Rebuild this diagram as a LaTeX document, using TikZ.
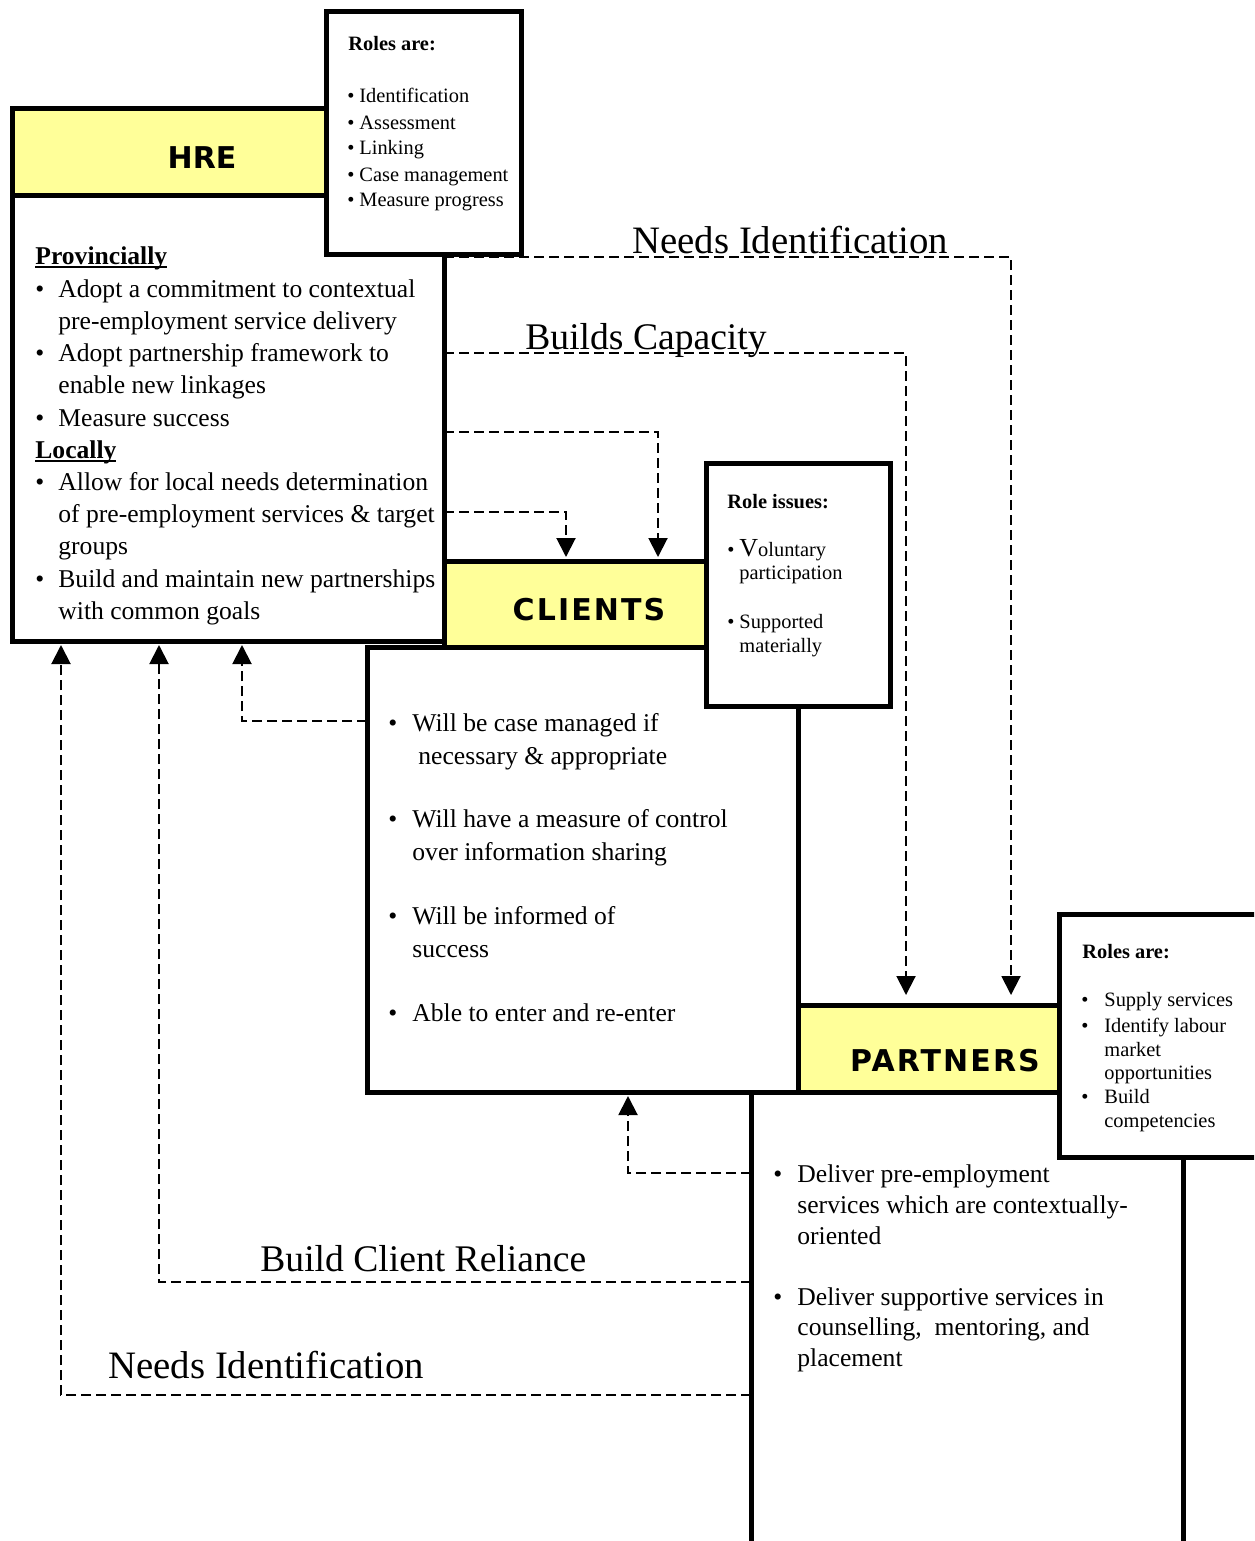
\documentclass[tikz,border=0pt]{standalone}
\usepackage{fontspec}
\setmainfont{Liberation Serif}
\newfontfamily\titlefont{DejaVu Sans}
\newfontfamily\titlefontsp[LetterSpace=7]{DejaVu Sans}
\usetikzlibrary{arrows.meta,fit}
\newcommand\myul[1]{\setbox0=\hbox{#1}\rlap{\rule[-2pt]{\wd0}{0.8pt}}\box0}
\definecolor{hdr}{HTML}{FFFF99}
\begin{document}
\begin{tikzpicture}[x=0.5pt,y=-0.5pt,
  box/.style={draw, line width=2.5pt, fill=white, inner sep=0pt, outer sep=0pt},
  hdrbox/.style={box, fill=hdr},
  dline/.style={line width=1pt, dash pattern=on 5pt off 2.5pt, -{Triangle[width=9.5pt,length=9.5pt]}, shorten >=2pt},
  big/.style={anchor=base west, inner sep=0pt, font=\fontsize{12.8}{15}\selectfont},
  small/.style={anchor=base west, inner sep=0pt, font=\fontsize{10.2}{12}\selectfont},
  lbl/.style={anchor=base west, inner sep=0pt, font=\fontsize{18.8}{20}\selectfont},
  lblw/.style={anchor=base west, inner sep=0pt, font=\fontsize{19.4}{20}\selectfont},
  ttl/.style={inner sep=0pt, font=\titlefont\bfseries\fontsize{15}{15}\selectfont},
  ttlsp/.style={inner sep=0pt, font=\titlefontsp\bfseries\fontsize{15}{15}\selectfont}]
\clip (0,0) rectangle (1254,1541);
\fill[white] (0,0) rectangle (1254,1541);

% HRE
\node[box, fit={(12,195) (444,641)}] (hrebody) {};
\node[hdrbox, fit={(12,109) (326,195)}] (hrehead) {};
\node[box, fit={(326,12) (521,254)}] (hreroles) {};
\node[ttl] (hretitle) at (202,158) {HRE};

% CLIENTS
\node[box, fit={(367,647) (798,1092)}] (clientsbody) {};
\node[hdrbox, fit={(444,561) (706,647)}] (clientshead) {};
\node[box, fit={(706,463) (890,706)}] (clientsroles) {};
\node[ttlsp] (clientstitle) at (589,610) {CLIENTS};

% PARTNERS
\node[box, fit={(751,1092) (1183,1580)}] (partnersbody) {};
\node[hdrbox, fit={(798,1005) (1059,1092)}] (partnershead) {};
\node[box, fit={(1059,914) (1280,1157)}] (partnersroles) {};
\node[ttlsp] (partnerstitle) at (945,1061) {PARTNERS};

% connectors
\draw[dline, shorten >=5pt] (hrebody.east |- 0,257) -| (partnershead.north -| 1011,0);
\draw[dline, shorten >=5pt] (hrebody.east |- 0,353) -| (partnershead.north -| 906,0);
\draw[dline] (hrebody.east |- 0,432) -| (clientshead.north -| 658,0);
\draw[dline] (hrebody.east |- 0,512) -| (clientshead.north -| 566,0);
\draw[dline] (clientsbody.west |- 0,721) -| (hrebody.south -| 242,0);
\draw[dline] (partnersbody.west |- 0,1282) -| (hrebody.south -| 159,0);
\draw[dline] (partnersbody.west |- 0,1395) -| (hrebody.south -| 61,0);
\draw[dline] (partnersbody.west |- 0,1173) -| (clientsbody.south -| 628,0);

% connector labels
\node[lblw] (lneeds1) at (632,253) {Needs Identification};
\node[lbl] (lbuilds) at (525,349) {Builds Capacity};
\node[lbl] (lreliance) at (260,1271) {Build Client Reliance};
\node[lblw] (lneeds2) at (108,1378) {Needs Identification};

% HRE roles
\node[small] (hr0) at (348,51) {\bfseries Roles are:};
\node[small] (hrb1) at (347,103) {•};
\node[small] (hrb2) at (347,129) {•};
\node[small] (hrb3) at (347,155) {•};
\node[small] (hrb4) at (347,181) {•};
\node[small] (hrb5) at (347,206) {•};
\node[small] (hr1) at (359,103) {Identification};
\node[small] (hr2) at (359,129) {Assessment};
\node[small] (hr3) at (359,155) {Linking};
\node[small] (hr4) at (359,181) {Case management};
\node[small] (hr5) at (359,206) {Measure progress};

% HRE body
\node[big] (hp) at (35,264) {\myul{\bfseries Provincially}};
\node[big] (hb1) at (35,297) {•};
\node[big] (hb2) at (35,361) {•};
\node[big] (hb3) at (35,426) {•};
\node[big] (hb4) at (35,490) {•};
\node[big] (hb5) at (35,587) {•};
\node[big] (ht1) at (58,297) {Adopt a commitment to contextual};
\node[big] (ht2) at (58,329) {pre-employment service delivery};
\node[big] (ht3) at (58,361) {Adopt partnership framework to};
\node[big] (ht4) at (58,393) {enable new linkages};
\node[big] (ht5) at (58,426) {Measure success};
\node[big] (hl) at (35,458) {\myul{\bfseries Locally}};
\node[big] (ht6) at (58,490) {Allow for local needs determination};
\node[big] (ht7) at (58,522) {of pre-employment services \& target};
\node[big] (ht8) at (58,554) {groups};
\node[big] (ht9) at (58,587) {Build and maintain new partnerships};
\node[big] (ht10) at (58,619) {with common goals};

% CLIENTS roles
\node[small] (cr0) at (727,508) {\bfseries Role issues:};
\node[small] (crb1) at (727,556) {•};
\node[small] (cr1) at (739,556) {{\fontsize{13}{13}\selectfont V}oluntary};
\node[small] (cr2) at (739,579) {participation};
\node[small] (crb2) at (727,628) {•};
\node[small] (cr3) at (739,628) {Supported};
\node[small] (cr4) at (739,652) {materially};

% CLIENTS body
\node[big] (cb1) at (388,731) {•};
\node[big] (cb2) at (388,827) {•};
\node[big] (cb3) at (388,924) {•};
\node[big] (cb4) at (388,1021) {•};
\node[big] (ct1) at (412,731) {Will be case managed if};
\node[big] (ct2) at (418,764) {necessary \& appropriate};
\node[big] (ct3) at (412,827) {Will have a measure of control};
\node[big] (ct4) at (412,860) {over information sharing};
\node[big] (ct5) at (412,924) {Will be informed of};
\node[big] (ct6) at (412,957) {success};
\node[big] (ct7) at (412,1021) {Able to enter and re-enter};

% PARTNERS roles
\node[small] (pr0) at (1082,958) {\bfseries Roles are:};
\node[small] (prb1) at (1081,1006) {•};
\node[small] (prb2) at (1081,1032) {•};
\node[small] (prb3) at (1081,1103) {•};
\node[small] (pr1) at (1104,1006) {Supply services};
\node[small] (pr2) at (1104,1032) {Identify labour};
\node[small] (pr3) at (1104,1056) {market};
\node[small] (pr4) at (1104,1079) {opportunities};
\node[small] (pr5) at (1104,1103) {Build};
\node[small] (pr6) at (1104,1127) {competencies};

% PARTNERS body
\node[big] (pb1) at (773,1182) {•};
\node[big] (pb2) at (773,1305) {•};
\node[big] (pt1) at (797,1182) {Deliver pre-employment};
\node[big] (pt2) at (797,1213) {services which are contextually-};
\node[big] (pt3) at (797,1244) {oriented};
\node[big] (pt4) at (797,1305) {Deliver supportive services in};
\node[big] (pt5) at (797,1335) {counselling,\ \ mentoring, and};
\node[big] (pt6) at (797,1366) {placement};
\end{tikzpicture}
\end{document}
